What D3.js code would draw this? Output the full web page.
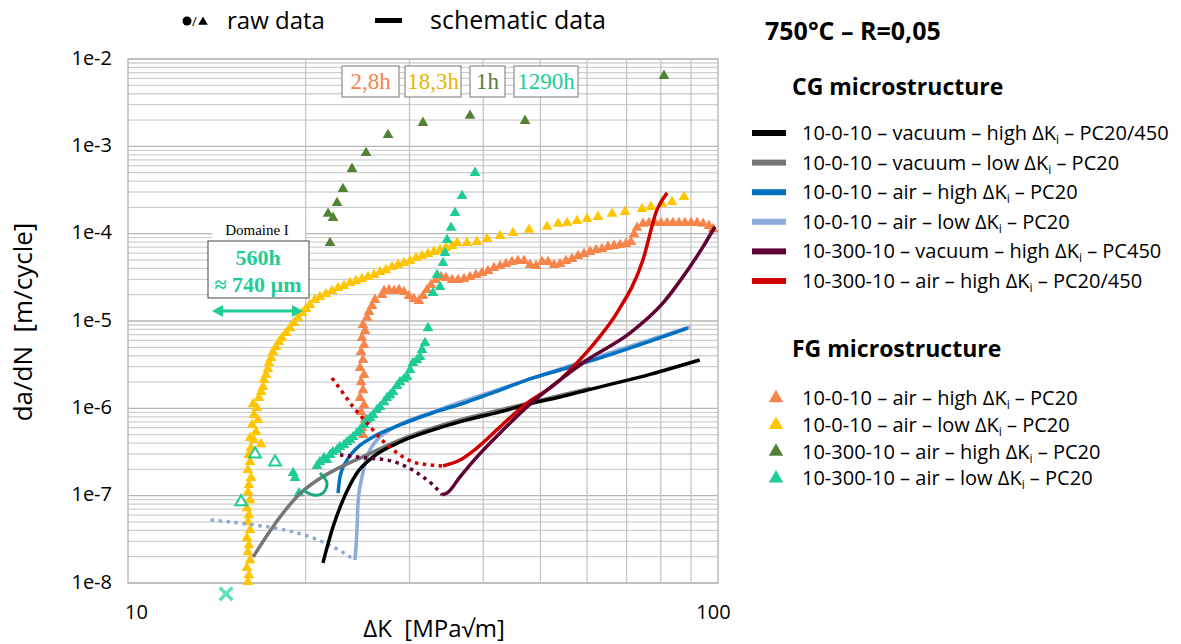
<!DOCTYPE html>
<html>
<head>
<meta charset="utf-8">
<script src="https://cdn.jsdelivr.net/npm/d3@7"></script>
<style>
  body { margin: 0; background: #fff; }
  text { font-family: "Open Sans", "Noto Sans", sans-serif; fill: #000; white-space: pre; }
  .serif { font-family: "Liberation Serif", "DejaVu Serif", serif; }
</style>
</head>
<body>
<div id="chart"></div>
<script>
// axis ticks
var yTickValues = [1e-8, 1e-7, 1e-6, 1e-5, 1e-4, 1e-3, 1e-2];
var yTickLabels = ["1e-8", "1e-7", "1e-6", "1e-5", "1e-4", "1e-3", "1e-2"];
var xTickValues = [10, 100];
var xTickLabels = ["10", "100"];
var xGridValues = [20, 30, 40, 50, 60, 70, 80, 90];

// CG microstructure - schematic curves [dK, da/dN]
var cgVacHigh = [[21.4,1.7e-8],[22.26,4.4e-8],[23.14,8.9e-8],[24.44,1.82e-7],[26.02,2.78e-7],[28.91,4.12e-7],[32.88,5.66e-7],[37.54,7.37e-7],[42.72,9.1e-7],[48.59,1.15e-6],[54.0,1.35e-6],[60.7,1.65e-6],[76.7,2.45e-6],[93.1,3.58e-6]];
var cgVacLow = [[16.3,1.99e-8],[17.27,3.64e-8],[18.38,6.52e-8],[19.56,1.05e-7],[20.83,1.47e-7],[22.26,1.92e-7],[25.42,2.93e-7],[28.91,4.35e-7],[32.88,5.96e-7],[37.54,7.77e-7],[42.72,9.6e-7],[54.0,1.4e-6],[60.7,1.7e-6]];
var cgAirHigh = [[22.7,1.07e-7],[22.87,1.64e-7],[23.51,2.56e-7],[24.44,3.52e-7],[26.02,4.7e-7],[28.91,6.46e-7],[32.88,8.9e-7],[37.54,1.18e-6],[42.72,1.62e-6],[48.59,2.23e-6],[54.0,2.75e-6],[60.0,3.4e-6],[88.9,8.3e-6]];
var cgAirLow = [[24.25,1.83e-8],[24.44,4.05e-8],[24.54,8.26e-8],[24.92,1.64e-7],[25.42,2.78e-7],[26.42,4.35e-7],[27.81,5.66e-7],[32.88,9.1e-7],[42.72,1.67e-6],[54.0,2.83e-6],[89.62,8.6e-6]];
var cgAirLowExtra = [[13.8,5.27e-8],[15.9,4.74e-8],[18.1,4.15e-8],[20.6,3.28e-8],[22.3,2.58e-8],[24.25,1.83e-8]];
var cg300VacHigh = [[34.1,1.02e-7],[34.73,1.07e-7],[36.54,1.64e-7],[39.04,2.78e-7],[42.72,5.23e-7],[47.46,1.04e-6],[54.0,2.12e-6],[60.0,3.58e-6],[71.0,7.3e-6],[80.7,1.61e-5],[87.2,3.2e-5],[94.3,7.06e-5],[98.8,1.2e-4]];
var cg300VacHighExtra = [[22.87,2.93e-7],[25.42,2.7e-7],[27.48,2.56e-7],[29.71,2.13e-7],[31.62,1.64e-7],[32.88,1.33e-7],[34.1,1.02e-7]];
var cg300AirHigh = [[34.2,2.19e-7],[36.54,2.56e-7],[39.04,3.52e-7],[42.72,6.13e-7],[47.46,1.15e-6],[51.32,1.62e-6],[54.0,2.12e-6],[56.8,2.98e-6],[62.4,6.08e-6],[67.4,1.24e-5],[74.6,5.0e-5],[78.8,1.87e-4],[82.0,2.93e-4]];
var cg300AirHighExtra = [[22.17,2.23e-6],[23.14,1.5e-6],[24.07,1.04e-6],[25.42,6.8e-7],[26.74,4.58e-7],[28.58,3.09e-7],[30.41,2.43e-7],[32.5,2.25e-7],[34.2,2.19e-7]];
var fg300AirLowFit = [[21.15,1.82e-7],[21.74,1.4e-7],[21.4,1.07e-7],[20.6,1.02e-7],[19.8,1.16e-7]];

// FG microstructure - raw data [dK, da/dN]
var fgAirHigh = [[25.02,4.96e-7],[24.92,5.96e-7],[25.22,7.37e-7],[24.83,9.1e-7],[25.12,1.09e-6],[24.73,1.32e-6],[25.02,1.62e-6],[24.83,2.0e-6],[25.12,2.41e-6],[24.73,2.9e-6],[25.02,3.58e-6],[24.83,4.43e-6],[25.12,5.32e-6],[24.92,6.41e-6],[25.22,7.7e-6],[25.02,9.0e-6],[25.42,1.09e-5],[25.62,1.27e-5],[25.92,1.49e-5],[26.22,1.75e-5],[26.95,1.99e-5],[27.16,2.21e-5],[27.70,2.27e-5],[28.24,2.21e-5],[28.80,2.27e-5],[29.36,2.15e-5],[29.94,1.94e-5],[30.52,1.79e-5],[31.13,1.70e-5],[31.62,1.94e-5],[32.12,2.27e-5],[32.62,2.59e-5],[33.27,2.96e-5],[33.93,3.2e-5],[34.59,3.12e-5],[35.41,2.96e-5],[36.26,2.96e-5],[37.11,3.03e-5],[37.99,3.2e-5],[38.89,3.37e-5],[39.81,3.56e-5],[40.76,3.75e-5],[41.72,4.06e-5],[42.72,4.28e-5],[43.72,4.51e-5],[44.75,4.75e-5],[45.81,4.88e-5],[46.90,4.88e-5],[48.03,4.39e-5],[49.15,4.28e-5],[50.33,4.75e-5],[51.51,4.75e-5],[52.73,4.39e-5],[54.00,4.51e-5],[55.25,4.88e-5],[56.57,5.14e-5],[57.92,5.57e-5],[59.28,5.88e-5],[60.70,6.2e-5],[62.13,6.53e-5],[63.60,6.7e-5],[65.11,7.07e-5],[66.65,7.26e-5],[68.22,7.45e-5],[69.84,7.65e-5],[71.21,8.06e-5],[72.06,9.9e-5],[72.91,1.17e-4],[74.62,1.30e-4],[76.39,1.33e-4],[78.20,1.33e-4],[80.05,1.33e-4],[81.95,1.33e-4],[83.88,1.33e-4],[85.87,1.33e-4],[87.92,1.33e-4],[90.00,1.33e-4],[92.13,1.33e-4],[94.32,1.30e-4],[96.54,1.23e-4],[98.06,1.13e-4]];
var fgAirLow = [[15.97,1.03e-8],[16.03,1.23e-8],[15.91,1.49e-8],[16.10,1.83e-8],[15.97,2.26e-8],[16.03,2.72e-8],[15.91,3.28e-8],[16.10,4.05e-8],[15.97,5.0e-8],[16.03,6.0e-8],[15.91,7.2e-8],[16.10,8.9e-8],[15.97,1.10e-7],[16.03,1.33e-7],[16.16,1.60e-7],[15.97,1.97e-7],[16.10,2.43e-7],[16.03,2.93e-7],[16.16,3.52e-7],[16.81,3.9e-7],[16.35,4.35e-7],[16.10,4.58e-7],[16.48,5.37e-7],[16.23,6.46e-7],[16.61,7.37e-7],[16.35,8.4e-7],[16.54,1.01e-6],[16.29,1.12e-6],[16.67,1.32e-6],[16.81,1.54e-6],[16.94,1.76e-6],[17.00,2.12e-6],[17.14,2.41e-6],[17.27,2.83e-6],[17.34,3.31e-6],[17.48,3.78e-6],[17.61,4.43e-6],[17.82,5.05e-6],[18.03,5.77e-6],[18.24,6.41e-6],[18.53,7.3e-6],[18.82,8.3e-6],[19.11,9.5e-6],[19.41,1.09e-5],[19.72,1.24e-5],[20.03,1.38e-5],[20.34,1.53e-5],[20.74,1.75e-5],[21.15,1.89e-5],[21.65,2.04e-5],[22.17,2.21e-5],[22.70,2.39e-5],[23.23,2.52e-5],[23.78,2.73e-5],[24.35,2.88e-5],[24.92,3.03e-5],[25.51,3.2e-5],[26.12,3.37e-5],[26.74,3.65e-5],[27.37,3.85e-5],[28.02,4.17e-5],[28.69,4.39e-5],[29.36,4.63e-5],[30.06,4.88e-5],[30.77,5.28e-5],[31.50,5.57e-5],[32.24,5.88e-5],[33.01,6.2e-5],[33.80,6.53e-5],[34.59,6.88e-5],[35.41,7.26e-5],[36.12,7.85e-5],[37.54,7.85e-5],[39.04,8.06e-5],[40.60,8.71e-5],[42.72,9.4e-5],[44.93,1.02e-4],[47.84,1.11e-4],[51.32,1.20e-4],[53.58,1.30e-4],[55.50,1.33e-4],[57.68,1.40e-4],[59.98,1.48e-4],[62.60,1.56e-4],[66.12,1.69e-4],[69.57,1.78e-4],[74.33,1.92e-4],[76.98,2.03e-4],[80.38,2.19e-4],[83.56,2.31e-4],[87.58,2.64e-4]];
var fg300AirHigh = [[22.00,7.85e-5],[21.83,1.69e-4],[22.26,1.52e-4],[22.61,2.25e-4],[23.14,3.26e-4],[23.97,5.53e-4],[25.32,8.4e-4],[27.59,1.35e-3],[31.62,1.86e-3],[37.99,2.24e-3],[47.09,1.96e-3],[81.0,6.42e-3]];
var fg300AirLow = [[19.05,1.82e-7],[19.19,1.60e-7],[19.49,1.07e-7],[20.91,2.19e-7],[21.15,2.43e-7],[21.49,2.70e-7],[21.74,2.56e-7],[22.00,2.93e-7],[22.26,3.17e-7],[22.61,3.34e-7],[22.87,3.61e-7],[23.23,3.81e-7],[23.51,4.12e-7],[23.78,4.35e-7],[24.07,4.70e-7],[24.44,5.23e-7],[24.73,5.66e-7],[25.12,6.46e-7],[25.42,7.37e-7],[25.72,7.77e-7],[26.02,8.4e-7],[26.42,9.6e-7],[26.74,1.04e-6],[27.16,1.18e-6],[27.48,1.32e-6],[27.81,1.42e-6],[28.13,1.54e-6],[28.58,1.81e-6],[28.91,2.0e-6],[29.36,2.17e-6],[29.71,2.29e-6],[30.06,2.75e-6],[30.41,3.31e-6],[30.89,3.58e-6],[31.26,3.88e-6],[31.50,4.67e-6],[31.87,5.61e-6],[32.24,8.3e-6],[32.88,2.10e-5],[33.80,2.46e-5],[33.40,3.37e-5],[34.19,4.63e-5],[34.46,6.04e-5],[34.73,8.5e-5],[35.28,1.17e-4],[35.83,1.73e-4],[36.83,2.71e-4],[38.74,4.98e-4]];
var fg300AirLowOpen = [[15.55,8.5e-8],[16.42,3.0e-7],[17.75,2.43e-7]];
var fg300AirLowCross = [[14.66,7.5e-9]];

// legends
var cgLabels = [
  ["10-0-10 – vacuum – high ΔK", "i", " – PC20/450"],
  ["10-0-10 – vacuum – low ΔK", "i", " – PC20"],
  ["10-0-10 – air – high ΔK", "i", " – PC20"],
  ["10-0-10 – air – low ΔK", "i", " – PC20"],
  ["10-300-10 – vacuum – high ΔK", "i", " – PC450"],
  ["10-300-10 – air – high ΔK", "i", " – PC20/450"]
];
var fgLabels = [
  ["10-0-10 – air – high ΔK", "i", " – PC20"],
  ["10-0-10 – air – low ΔK", "i", " – PC20"],
  ["10-300-10 – air – high ΔK", "i", " – PC20"],
  ["10-300-10 – air – low ΔK", "i", " – PC20"]
];
var timeLabels = ["2,8h", "18,3h", "1h", "1290h"];

var cgColors = ["#000000", "#767676", "#0070c0", "#8eaadb", "#600033", "#d00000"];
var fgColors = ["#f7844a", "#ffc600", "#548235", "#1ecc96"];
var timeColors = ["#f7844a", "#e8b400", "#548235", "#1ecc96"];

var width = 1181, height = 644;

var svg = d3.select("#chart").append("svg")
    .attr("width", width)
    .attr("height", height);

var x = d3.scaleLog().domain([10, 100]).range([128, 718]);
var y = d3.scaleLog().domain([1e-8, 1e-2]).range([583, 59]);

// grid
var grid = svg.append("g");
grid.selectAll(".hgrid").data(y.ticks())
    .enter().append("line")
    .attr("x1", 128).attr("x2", 718)
    .attr("y1", function(d) { return y(d); })
    .attr("y2", function(d) { return y(d); })
    .attr("stroke", function(d) { return Math.abs(Math.log10(d) - Math.round(Math.log10(d))) < 1e-6 ? "#b4b4b4" : "#d0d0d0"; })
    .attr("stroke-width", 1.3);
grid.selectAll(".vgrid").data(xGridValues)
    .enter().append("line")
    .attr("y1", 59).attr("y2", 583)
    .attr("x1", function(d) { return x(d); })
    .attr("x2", function(d) { return x(d); })
    .attr("stroke", "#c4c4c4")
    .attr("stroke-width", 1.3);
svg.append("rect")
    .attr("x", 128).attr("y", 59)
    .attr("width", 590).attr("height", 524)
    .attr("fill", "none")
    .attr("stroke", "#bcbcbc")
    .attr("stroke-width", 1.5);

// axes
var yAxis = svg.append("g")
    .attr("transform", "translate(128,0)")
    .call(d3.axisLeft(y).tickValues(yTickValues)
        .tickFormat(function(d, i) { return yTickLabels[i]; })
        .tickSize(0).tickPadding(16));
yAxis.select(".domain").remove();
yAxis.selectAll("text").attr("font-size", 20).attr("font-family", "Open Sans").attr("dy", "0.25em");

var xAxis = svg.append("g")
    .attr("transform", "translate(0,583)")
    .call(d3.axisBottom(x).tickValues(xTickValues)
        .tickFormat(function(d, i) { return xTickLabels[i]; })
        .tickSize(0).tickPadding(22));
xAxis.select(".domain").remove();
xAxis.selectAll("text").attr("font-size", 20).attr("font-family", "Open Sans")
    .attr("dx", function(d, i) { return i === 0 ? 8 : -5; });

svg.append("text")
    .attr("x", 434).attr("y", 637)
    .attr("text-anchor", "middle")
    .attr("font-size", 24)
    .text("ΔK  [MPa√m]");
svg.append("text")
    .attr("transform", "translate(32,322) rotate(-90)")
    .attr("text-anchor", "middle")
    .attr("font-size", 26)
    .text("da/dN  [m/cycle]");

// raw data
var tri = d3.symbol().type(d3.symbolTriangle).size(50);
function scatter(data, color) {
    svg.append("g").selectAll("path").data(data)
        .enter().append("path")
        .attr("d", tri)
        .attr("transform", function(d) { return "translate(" + x(d[0]) + "," + y(d[1]) + ")"; })
        .attr("fill", color);
}
scatter(fgAirHigh, fgColors[0]);
scatter(fgAirLow, fgColors[1]);
scatter(fg300AirHigh, fgColors[2]);
scatter(fg300AirLow, fgColors[3]);

svg.append("g").selectAll("path").data(fg300AirLowOpen)
    .enter().append("path")
    .attr("d", d3.symbol().type(d3.symbolTriangle).size(60))
    .attr("transform", function(d) { return "translate(" + x(d[0]) + "," + y(d[1]) + ")"; })
    .attr("fill", "#fff")
    .attr("stroke", fgColors[3])
    .attr("stroke-width", 2);
svg.append("g").selectAll("path").data(fg300AirLowCross)
    .enter().append("path")
    .attr("d", d3.symbol().type(d3.symbolX).size(110))
    .attr("transform", function(d) { return "translate(" + x(d[0]) + "," + y(d[1]) + ")"; })
    .attr("fill", "none")
    .attr("stroke", "#62e0b4")
    .attr("stroke-width", 3.5);

// schematic data
var line = d3.line()
    .x(function(d) { return x(d[0]); })
    .y(function(d) { return y(d[1]); })
    .curve(d3.curveMonotoneX);
var loopLine = d3.line()
    .x(function(d) { return x(d[0]); })
    .y(function(d) { return y(d[1]); })
    .curve(d3.curveCatmullRom.alpha(0.5));
function curve(data, color, dotted, gen, w) {
    svg.append("path")
        .datum(data)
        .attr("d", gen || line)
        .attr("fill", "none")
        .attr("stroke", color)
        .attr("stroke-width", w || 3.5)
        .attr("stroke-dasharray", dotted ? "3.5,4.5" : null);
}
curve(cgAirLowExtra, cgColors[3], true);
curve(cgAirLow, cgColors[3], false);
curve(cgAirHigh, cgColors[2], false);
curve(cgVacLow, cgColors[1], false);
curve(cgVacHigh, cgColors[0], false);
curve(cg300AirHighExtra, cgColors[5], true);
curve(cg300AirHigh, cgColors[5], false);
curve(cg300VacHighExtra, cgColors[4], true);
curve(cg300VacHigh, cgColors[4], false);
curve(fg300AirLowFit, "#1aa879", false, loopLine, 3);

// time boxes
var boxX = [342, 405, 470, 514], boxW = [57, 56, 35, 64];
timeLabels.forEach(function(t, i) {
    svg.append("rect")
        .attr("x", boxX[i]).attr("y", 66)
        .attr("width", boxW[i]).attr("height", 31)
        .attr("fill", "#fff")
        .attr("stroke", "#777").attr("stroke-width", 1);
    svg.append("text")
        .attr("class", "serif")
        .attr("x", boxX[i] + boxW[i] / 2).attr("y", 89)
        .attr("text-anchor", "middle")
        .attr("font-size", 23)
        .style("fill", timeColors[i])
        .text(t);
});

// Domaine I
svg.append("rect").attr("x", 212).attr("y", 218).attr("width", 93).attr("height", 22).attr("fill", "#fff");
svg.append("text").attr("class", "serif")
    .attr("x", 257).attr("y", 235).attr("text-anchor", "middle")
    .attr("font-size", 15).text("Domaine I");
svg.append("rect").attr("x", 208).attr("y", 241).attr("width", 101).attr("height", 57)
    .attr("fill", "#fff").attr("stroke", "#444").attr("stroke-width", 1);
svg.append("text").attr("class", "serif")
    .attr("x", 258).attr("y", 265).attr("text-anchor", "middle")
    .attr("font-size", 22).attr("font-weight", "bold")
    .style("fill", fgColors[3]).text("560h");
svg.append("text").attr("class", "serif")
    .attr("x", 258).attr("y", 292).attr("text-anchor", "middle")
    .attr("font-size", 22).attr("font-weight", "bold")
    .style("fill", fgColors[3]).text("≈ 740 µm");
var arrowY = 311;
svg.append("line").attr("x1", 220).attr("x2", 295).attr("y1", arrowY).attr("y2", arrowY)
    .attr("stroke", fgColors[3]).attr("stroke-width", 3);
svg.append("path").attr("d", "M212," + arrowY + "L223," + (arrowY - 6) + "L223," + (arrowY + 6) + "Z").attr("fill", fgColors[3]);
svg.append("path").attr("d", "M303," + arrowY + "L292," + (arrowY - 6) + "L292," + (arrowY + 6) + "Z").attr("fill", fgColors[3]);

// top legend
svg.append("circle").attr("cx", 187).attr("cy", 21).attr("r", 4.5).attr("fill", "#000");
svg.append("text").attr("x", 192).attr("y", 26).attr("font-size", 13).text("/");
svg.append("path").attr("d", d3.symbol().type(d3.symbolTriangle).size(40))
    .attr("transform", "translate(203,22)").attr("fill", "#000");
svg.append("text").attr("x", 227).attr("y", 29).attr("font-size", 24).text("raw data");
svg.append("rect").attr("x", 375).attr("y", 18).attr("width", 27).attr("height", 5).attr("fill", "#000");
svg.append("text").attr("x", 430).attr("y", 29).attr("font-size", 25).text("schematic data");

// right legend
svg.append("text").attr("x", 765).attr("y", 40).attr("font-size", 25).attr("font-weight", "bold")
    .text("750°C – R=0,05");
svg.append("text").attr("x", 792).attr("y", 95).attr("font-size", 23).attr("font-weight", "bold")
    .text("CG microstructure");
svg.append("text").attr("x", 792).attr("y", 357).attr("font-size", 23).attr("font-weight", "bold")
    .text("FG microstructure");

function legendText(sel, parts) {
    sel.append("tspan").text(parts[0]);
    sel.append("tspan").attr("font-size", 12).attr("dy", 4).text(parts[1]);
    sel.append("tspan").attr("dy", -4).text(parts[2]);
}
cgLabels.forEach(function(p, i) {
    var cy = 133 + i * 29.6;
    svg.append("rect").attr("x", 752).attr("y", cy - 3).attr("width", 34).attr("height", 6)
        .attr("fill", cgColors[i]);
    legendText(svg.append("text").attr("x", 802).attr("y", cy + 7).attr("font-size", 20), p);
});
fgLabels.forEach(function(p, i) {
    var cy = 398 + i * 26.8;
    svg.append("path").attr("d", d3.symbol().type(d3.symbolTriangle).size(90))
        .attr("transform", "translate(776," + cy + ")")
        .attr("fill", fgColors[i]);
    legendText(svg.append("text").attr("x", 802).attr("y", cy + 7).attr("font-size", 20), p);
});
</script>
</body>
</html>
